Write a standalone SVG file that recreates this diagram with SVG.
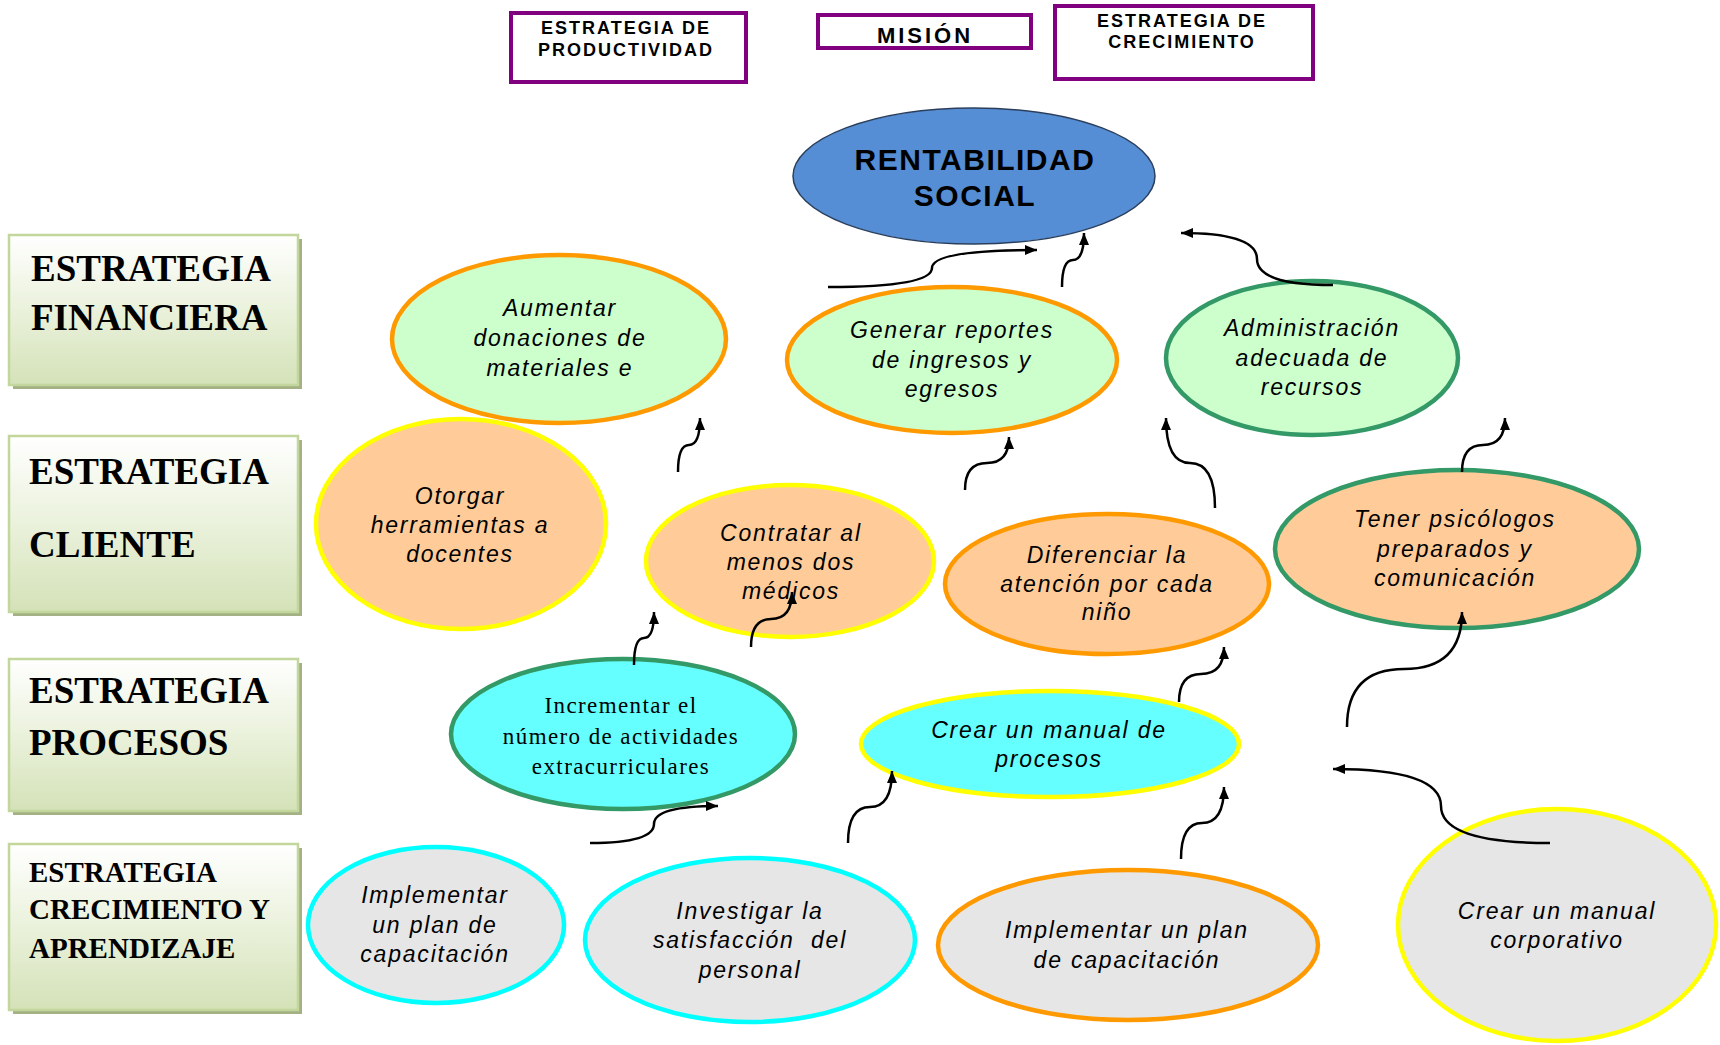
<svg xmlns="http://www.w3.org/2000/svg" width="1720" height="1045" viewBox="0 0 1720 1045">
<defs>
<linearGradient id="gb" x1="0" y1="0" x2="0" y2="1">
<stop offset="0" stop-color="#ffffff"/>
<stop offset="0.55" stop-color="#e8f0d8"/>
<stop offset="1" stop-color="#d4e2b8"/>
</linearGradient>
<marker id="ah" markerUnits="userSpaceOnUse" markerWidth="14" markerHeight="12" refX="12" refY="5" orient="auto">
<path d="M0,0 L12,5 L0,10 Z" fill="#000"/>
</marker>
</defs>
<style>
.top{fill:#fff;stroke:#800080;stroke-width:4}
.tt{font-family:"Liberation Sans",Arial,sans-serif;font-weight:bold;font-size:18px;letter-spacing:2px;text-anchor:middle;fill:#000}
.sh{fill:#a3b184}
.lb{fill:url(#gb);stroke:#c3d69b;stroke-width:2.5}
.lt{font-family:"Liberation Serif","Times New Roman",serif;font-weight:bold;font-size:37px;fill:#000}
.lt2{font-size:29px}
.e{stroke-width:4.5}
.gr{fill:#ccffcc}.pe{fill:#ffcc99}.cy{fill:#66ffff}.gy{fill:#e6e6e6}
.so{stroke:#ff9900}.sg{stroke:#339966}.sy{stroke:#ffff00}.sc{stroke:#00ffff}
.it{font-family:"Liberation Sans",Arial,sans-serif;font-style:italic;font-size:23px;letter-spacing:1.8px;text-anchor:middle;fill:#000}
.sf{font-family:"Liberation Serif","Times New Roman",serif;font-size:23px;letter-spacing:1.4px;text-anchor:middle;fill:#000}
.c{fill:none;stroke:#000;stroke-width:2.5;marker-end:url(#ah)}
</style>
<rect width="1720" height="1045" fill="#fff"/>

<g id="box-productividad">
<rect class="top" x="511" y="13" width="235" height="69"/>
<text class="tt" x="626" y="34">ESTRATEGIA DE</text>
<text class="tt" x="626" y="56">PRODUCTIVIDAD</text>
</g>
<g id="box-mision">
<rect class="top" x="818" y="15" width="213" height="33"/>
<text class="tt" x="925" y="43" style="font-size:22px;letter-spacing:3px">MISIÓN</text>
</g>
<g id="box-crecimiento">
<rect class="top" x="1055" y="6" width="258" height="73"/>
<text class="tt" x="1182" y="27">ESTRATEGIA DE</text>
<text class="tt" x="1182" y="48">CRECIMIENTO</text>
</g>

<g id="rentabilidad">
<ellipse cx="974" cy="176" rx="181" ry="68" fill="#558ed5" stroke="#2b3f5c" stroke-width="1.5"/>
<text x="975" y="170" style="font-family:'Liberation Sans',Arial,sans-serif;font-weight:bold;font-size:30px;letter-spacing:1.5px;text-anchor:middle">RENTABILIDAD</text>
<text x="975" y="206" style="font-family:'Liberation Sans',Arial,sans-serif;font-weight:bold;font-size:30px;letter-spacing:1.5px;text-anchor:middle">SOCIAL</text>
</g>

<g id="lbl-financiera">
<rect class="sh" x="13" y="239" width="289" height="150"/>
<rect class="lb" x="9" y="235" width="289" height="150"/>
<text class="lt" x="31" y="281">ESTRATEGIA</text>
<text class="lt" x="31" y="330">FINANCIERA</text>
</g>
<g id="lbl-cliente">
<rect class="sh" x="13" y="440" width="289" height="176"/>
<rect class="lb" x="9" y="436" width="289" height="176"/>
<text class="lt" x="29" y="484">ESTRATEGIA</text>
<text class="lt" x="29" y="557">CLIENTE</text>
</g>
<g id="lbl-procesos">
<rect class="sh" x="13" y="663" width="289" height="152"/>
<rect class="lb" x="9" y="659" width="289" height="152"/>
<text class="lt" x="29" y="703">ESTRATEGIA</text>
<text class="lt" x="29" y="755">PROCESOS</text>
</g>
<g id="lbl-crecimiento">
<rect class="sh" x="13" y="848" width="289" height="166"/>
<rect class="lb" x="9" y="844" width="289" height="166"/>
<text class="lt lt2" x="29" y="882">ESTRATEGIA</text>
<text class="lt lt2" x="29" y="919">CRECIMIENTO Y</text>
<text class="lt lt2" x="29" y="958">APRENDIZAJE</text>
</g>

<g id="n-aumentar">
<ellipse class="e gr so" cx="559" cy="339" rx="167" ry="84"/>
<text class="it" x="560" y="316">Aumentar</text>
<text class="it" x="560" y="346">donaciones de</text>
<text class="it" x="560" y="376">materiales e</text>
</g>
<g id="n-generar">
<ellipse class="e gr so" cx="952" cy="360" rx="165" ry="73"/>
<text class="it" x="952" y="338">Generar reportes</text>
<text class="it" x="952" y="368">de ingresos y</text>
<text class="it" x="952" y="397">egresos</text>
</g>
<g id="n-administracion">
<ellipse class="e gr sg" cx="1312" cy="358" rx="146" ry="77"/>
<text class="it" x="1312" y="336">Administración</text>
<text class="it" x="1312" y="366">adecuada de</text>
<text class="it" x="1312" y="395">recursos</text>
</g>
<g id="n-otorgar">
<ellipse class="e pe sy" cx="461" cy="524" rx="145" ry="105"/>
<text class="it" x="460" y="504">Otorgar</text>
<text class="it" x="460" y="533">herramientas a</text>
<text class="it" x="460" y="562">docentes</text>
</g>
<g id="n-contratar">
<ellipse class="e pe sy" cx="790" cy="561" rx="144" ry="76"/>
<text class="it" x="791" y="541">Contratar al</text>
<text class="it" x="791" y="570">menos dos</text>
<text class="it" x="791" y="599">médicos</text>
</g>
<g id="n-diferenciar">
<ellipse class="e pe so" cx="1107" cy="584" rx="162" ry="70"/>
<text class="it" x="1107" y="563">Diferenciar la</text>
<text class="it" x="1107" y="592">atención por cada</text>
<text class="it" x="1107" y="620">niño</text>
</g>
<g id="n-psicologos">
<ellipse class="e pe sg" cx="1457" cy="549" rx="182" ry="79"/>
<text class="it" x="1455" y="527">Tener psicólogos</text>
<text class="it" x="1455" y="557">preparados y</text>
<text class="it" x="1455" y="586">comunicación</text>
</g>
<g id="n-incrementar">
<ellipse class="e cy sg" cx="623" cy="734" rx="172" ry="75"/>
<text class="sf" x="621" y="713">Incrementar el</text>
<text class="sf" x="621" y="744">número de actividades</text>
<text class="sf" x="621" y="774">extracurriculares</text>
</g>
<g id="n-manual-procesos">
<ellipse class="e cy sy" cx="1050" cy="744" rx="189" ry="53"/>
<text class="it" x="1049" y="738">Crear un manual de</text>
<text class="it" x="1049" y="767">procesos</text>
</g>
<g id="n-plan1">
<ellipse class="e gy sc" cx="436" cy="925" rx="128" ry="78"/>
<text class="it" x="435" y="903">Implementar</text>
<text class="it" x="435" y="933">un plan de</text>
<text class="it" x="435" y="962">capacitación</text>
</g>
<g id="n-investigar">
<ellipse class="e gy sc" cx="750" cy="940" rx="165" ry="82"/>
<text class="it" x="750" y="919">Investigar la</text>
<text class="it" x="750" y="948">satisfacción&#160; del</text>
<text class="it" x="750" y="978">personal</text>
</g>
<g id="n-plan2">
<ellipse class="e gy so" cx="1128" cy="945" rx="190" ry="75"/>
<text class="it" x="1127" y="938">Implementar un plan</text>
<text class="it" x="1127" y="968">de capacitación</text>
</g>
<g id="n-manual-corp">
<ellipse class="e gy sy" cx="1557" cy="925" rx="159" ry="116"/>
<text class="it" x="1557" y="919">Crear un manual</text>
<text class="it" x="1557" y="948">corporativo</text>
</g>

<g id="connectors">
<path class="c" d="M828 287 Q932 287 932 268 Q932 250 1037 250"/>
<path class="c" d="M1062 287 Q1062 260 1073 260 Q1084 260 1084 233"/>
<path class="c" d="M1333 285 Q1257 285 1257 259 Q1257 233 1181 233"/>
<path class="c" d="M678 472 Q678 445 689 445 Q700 445 700 418"/>
<path class="c" d="M965 490 Q965 463 987 463 Q1009 463 1009 437"/>
<path class="c" d="M1215 508 Q1215 463 1190 463 Q1166 463 1166 418"/>
<path class="c" d="M1462 472 Q1462 445 1483 445 Q1505 445 1505 418"/>
<path class="c" d="M634 665 Q634 638 644 638 Q654 638 654 612"/>
<path class="c" d="M751 647 Q751 619 771 619 Q792 619 792 592"/>
<path class="c" d="M1179 702 Q1179 674 1201 674 Q1224 674 1224 647"/>
<path class="c" d="M1347 727 Q1347 669 1404 669 Q1462 669 1462 612"/>
<path class="c" d="M590 843 Q654 843 654 824 Q654 806 718 806"/>
<path class="c" d="M848 843 Q848 807 870 807 Q892 807 892 771"/>
<path class="c" d="M1181 859 Q1181 823 1202 823 Q1224 823 1224 787"/>
<path class="c" d="M1550 843 Q1441 843 1441 806 Q1441 769 1333 769"/>
</g>
</svg>
